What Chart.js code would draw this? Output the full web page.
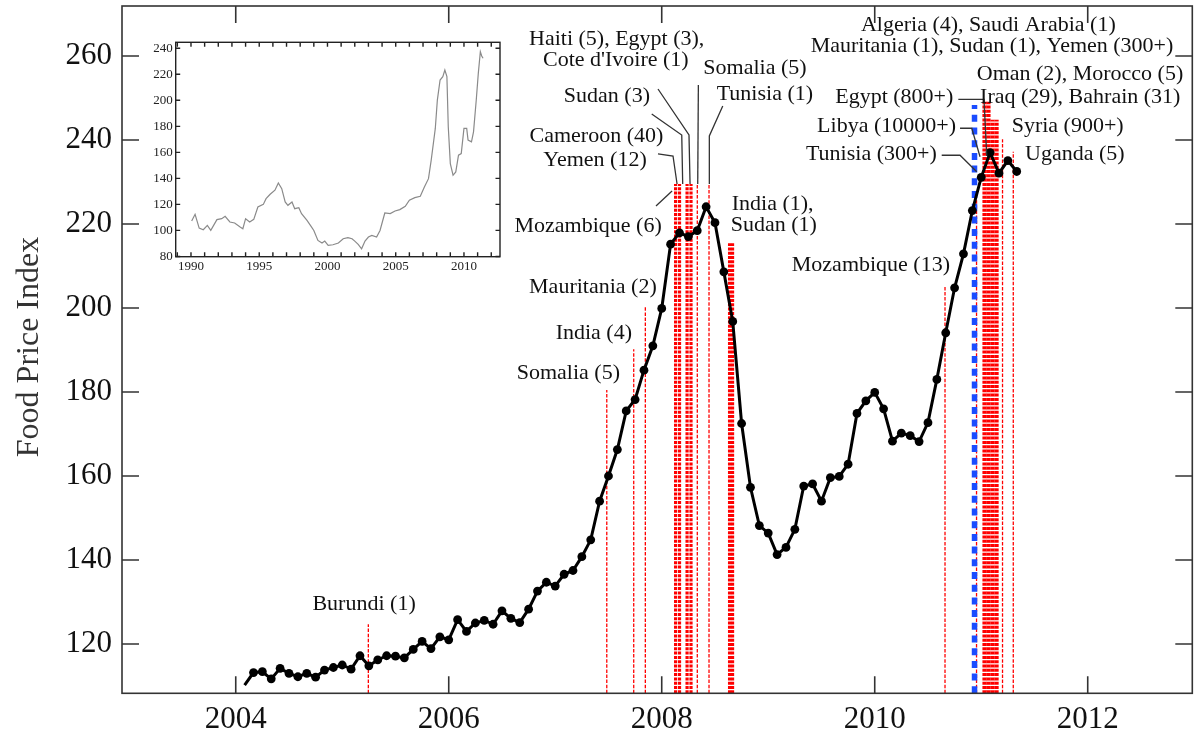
<!DOCTYPE html>
<html><head><meta charset="utf-8">
<script src="https://cdn.jsdelivr.net/npm/chart.js@4.4.0/dist/chart.umd.min.js"></script>
<style>
html,body{margin:0;padding:0;background:#fff;overflow:hidden}
#wrap{position:relative;width:1197px;height:733px}
#main{position:absolute;left:0;top:0}
#inset{position:absolute;left:140px;top:30px}
</style></head><body>
<div id="wrap"><canvas id="main" width="1197" height="733"></canvas><canvas id="inset" width="370" height="250"></canvas></div>
<script>
const FONT = '"Liberation Serif","Times New Roman",serif';

// ---- main series: FAO Food Price Index, monthly from Jan 2004 ----
const firstYear = 2004;
const foodIndex = [
  110.2,113.2,113.4,111.7,114.2,113.0,112.2,113.0,112.1,113.8,114.4,115.0,
  114.0,117.2,114.8,116.2,117.2,117.1,116.7,118.7,120.6,118.9,121.7,121.0,
  125.8,123.0,125.0,125.6,124.7,127.9,126.1,125.1,128.3,132.6,134.7,133.8,
  136.6,137.5,140.8,144.8,154.0,160.0,166.3,175.5,178.2,185.2,191.0,199.9,
  215.2,217.9,217.0,218.4,224.1,220.3,208.6,196.8,172.5,157.3,148.2,146.4,
  141.3,143.0,147.3,157.6,158.1,154.0,159.6,159.9,162.8,174.9,177.9,179.9,
  176.0,168.3,170.2,169.6,168.2,172.7,183.0,194.1,204.8,212.9,223.2,231.1,
  237.0,232.1,235.1,232.5
];
const xTicks = [2004, 2006, 2008, 2010, 2012];
const yTicks = [120, 140, 160, 180, 200, 220, 240, 260];

// ---- riot / unrest events (decimal year, height of marker line, lines in bundle) ----
const riotDates   = [2005.245, 2007.484, 2007.737, 2007.846, 2008.130, 2008.167, 2008.238, 2008.275,
                     2008.334, 2008.444, 2008.637, 2008.665, 2010.660, 2010.956, 2011.031, 2011.068,
                     2011.106, 2011.144, 2011.200, 2011.301];
const riotTops    = [124.7, 180.5, 190.2, 200.2, 229.5, 229.5, 229.5, 229.5,
                     229.5, 229.5, 215.4, 215.4, 205.2, 226.0, 249.1, 249.1,
                     244.8, 244.8, 240.2, 237.2];
const riotBundle  = [1, 1, 1, 1, 2, 2, 2, 2, 1, 1, 2, 2, 1, 1, 3, 3, 3, 3, 1, 1];
// Tunisia (300+) highlighted event
const tunisiaDate = 2010.937;
const tunisiaTop  = 248.3;

// ---- inset: long-run index 1990-2011 ----
const insetYears  = [1990.05,1990.3,1990.6,1990.9,1991.2,1991.45,1991.9,1992.25,1992.5,1992.85,1993.2,1993.6,1993.8,
  1994.0,1994.3,1994.6,1994.9,1995.3,1995.5,1995.8,1996.15,1996.4,1996.65,1996.9,1997.1,1997.4,1997.6,1997.9,
  1998.1,1998.5,1998.8,1999.0,1999.3,1999.6,1999.8,2000.05,2000.4,2000.8,2001.15,2001.5,2001.8,2002.0,2002.25,
  2002.5,2002.75,2003.0,2003.25,2003.6,2003.85,2004.2,2004.6,2004.95,2005.3,2005.7,2006.0,2006.4,2006.8,2007.1,
  2007.4,2007.6,2007.9,2008.05,2008.25,2008.45,2008.6,2008.75,2008.85,2009.0,2009.2,2009.4,2009.6,2009.8,2010.0,
  2010.2,2010.3,2010.55,2010.7,2010.9,2011.05,2011.2,2011.3,2011.4];
const insetValues = [107.2,112.4,101.8,100.5,103.9,100.0,108.3,109.0,110.8,106.5,105.7,102.6,101.3,
  109.0,106.5,108.5,118.0,120.0,124.4,127.8,130.9,136.5,132.1,121.9,119.3,121.9,116.7,117.5,
  112.9,107.7,103.1,100.0,92.3,90.3,91.8,88.5,89.0,90.3,93.6,94.4,93.6,91.8,89.3,
  85.9,91.8,94.9,96.2,94.9,100.0,113.4,112.9,114.9,116.0,118.5,123.2,125.2,126.2,133.4,
  139.8,154.0,178.4,200.2,215.6,218.2,223.3,218.2,179.7,151.4,142.4,145.0,157.8,159.1,178.4,
  178.4,169.4,168.1,175.8,200.2,220.7,237.4,234.1,232.3];
const insetXLabels = [1990, 1995, 2000, 2005, 2010];
const insetYTicks  = [80, 100, 120, 140, 160, 180, 200, 220, 240];

// ---- annotations (text in data coordinates) ----
const notes = [
  {t:'Burundi (1)', x:2005.205, y:129.52, a:'center'},
  {t:'Somalia (5)', x:2007.608, y:184.52, a:'right'},
  {t:'India (4)', x:2007.721, y:194.05, a:'right'},
  {t:'Mauritania (2)', x:2007.953, y:205.0, a:'right'},
  {t:'Mozambique (6)', x:2008.0, y:219.38, a:'right'},
  {t:'Yemen (12)', x:2007.859, y:235.24, a:'right'},
  {t:'Cameroon (40)', x:2008.015, y:240.79, a:'right'},
  {t:'Sudan (3)', x:2007.890, y:250.31, a:'right'},
  {t:'Haiti (5), Egypt (3),', x:2007.577, y:263.98, a:'center'},
  {t:"Cote d'Ivoire (1)", x:2007.569, y:259.05, a:'center'},
  {t:'Somalia (5)', x:2008.391, y:257.07, a:'left'},
  {t:'Tunisia (1)', x:2008.516, y:250.95, a:'left'},
  {t:'India (1),', x:2008.657, y:224.76, a:'left'},
  {t:'Sudan (1)', x:2008.648, y:219.76, a:'left'},
  {t:'Mozambique (13)', x:2010.707, y:210.24, a:'right'},
  {t:'Algeria (4), Saudi Arabia (1)', x:2011.067, y:267.38, a:'center'},
  {t:'Mauritania (1), Sudan (1), Yemen (300+)', x:2012.804, y:262.21, a:'right'},
  {t:'Oman (2), Morocco (5)', x:2010.958, y:255.71, a:'left'},
  {t:'Iraq (29), Bahrain (31)', x:2010.989, y:250.17, a:'left'},
  {t:'Egypt (800+)', x:2010.738, y:250.17, a:'right'},
  {t:'Libya (10000+)', x:2010.763, y:243.17, a:'right'},
  {t:'Syria (900+)', x:2011.286, y:243.33, a:'left'},
  {t:'Tunisia (300+)', x:2010.582, y:236.67, a:'right'},
  {t:'Uganda (5)', x:2011.411, y:236.67, a:'left'}
];
const leaders = [
  [[2007.965,252.14],[2008.256,241.19],[2008.266,229.52]],
  [[2007.906,246.19],[2008.188,241.19],[2008.197,229.52]],
  [[2007.965,236.67],[2008.106,236.19],[2008.144,229.52]],
  [[2007.946,224.29],[2008.097,227.86]],
  [[2008.344,253.10],[2008.338,229.52]],
  [[2008.573,248.10],[2008.447,240.95],[2008.447,229.52]],
  [[2010.785,249.69],[2011.026,249.69],[2011.052,236.19]],
  [[2010.801,242.79],[2010.911,242.79],[2010.989,236.02]],
  [[2010.629,236.36],[2010.801,236.36],[2010.958,232.45]]
];

const X_MIN = 2002.932, X_MAX = 2012.982, Y_MIN = 108.26, Y_MAX = 271.9;

const mainPoints = foodIndex.map((v, i) => ({x: firstYear + (i + 1) / 12, y: v}));

const datasets = [];
datasets.push({
  type: 'line', data: mainPoints, borderColor: '#000', borderWidth: 3,
  pointRadius: mainPoints.map((p, i) => i === 0 ? 0 : 4.4),
  pointBackgroundColor: '#000', pointBorderWidth: 0, tension: 0, order: 0
});
riotDates.forEach((d, i) => {
  const thick = riotBundle[i] > 1;
  datasets.push({
    type: 'line', data: [{x: d, y: Y_MIN}, {x: d, y: riotTops[i]}],
    borderColor: '#ff0000', borderWidth: thick ? (riotBundle[i] > 2 ? 4.2 : 3.2) : 1.3,
    borderDash: thick ? [3, 1.3] : [3.5, 1.6], pointRadius: 0, order: 2
  });
});
datasets.push({
  type: 'line', data: [{x: tunisiaDate, y: Y_MIN}, {x: tunisiaDate, y: tunisiaTop}],
  borderColor: '#1a4cff', borderWidth: 5.5, borderDash: [7, 5.7], pointRadius: 0, order: 1
});

function drawFrame(chart, xt, yt, len, lw, color) {
  const {ctx, chartArea: a, scales} = chart;
  ctx.save();
  ctx.strokeStyle = color; ctx.lineWidth = lw;
  ctx.strokeRect(a.left, a.top, a.right - a.left, a.bottom - a.top);
  ctx.beginPath();
  xt.forEach(v => {
    const px = scales.x.getPixelForValue(v);
    ctx.moveTo(px, a.bottom); ctx.lineTo(px, a.bottom - len);
    ctx.moveTo(px, a.top); ctx.lineTo(px, a.top + len);
  });
  yt.forEach(v => {
    const py = scales.y.getPixelForValue(v);
    ctx.moveTo(a.left, py); ctx.lineTo(a.left + len, py);
    ctx.moveTo(a.right, py); ctx.lineTo(a.right - len, py);
  });
  ctx.stroke();
  ctx.restore();
}

const mainPlugin = {
  id: 'mainDecor',
  afterDatasetsDraw(chart) {
    const {ctx, scales} = chart;
    drawFrame(chart, xTicks, yTicks, 17, 1.6, '#333');
    ctx.save();
    ctx.strokeStyle = '#333'; ctx.lineWidth = 1.3;
    leaders.forEach(l => {
      ctx.beginPath();
      l.forEach((p, i) => {
        const px = scales.x.getPixelForValue(p[0]), py = scales.y.getPixelForValue(p[1]);
        if (i === 0) ctx.moveTo(px, py); else ctx.lineTo(px, py);
      });
      ctx.stroke();
    });
    ctx.fillStyle = '#111';
    ctx.font = '22px ' + FONT;
    ctx.textBaseline = 'middle';
    notes.forEach(n => {
      ctx.textAlign = n.a;
      ctx.fillText(n.t, scales.x.getPixelForValue(n.x), scales.y.getPixelForValue(n.y));
    });
    ctx.translate(30, 347);
    ctx.rotate(-Math.PI / 2);
    ctx.textAlign = 'center';
    ctx.fillStyle = '#333';
    ctx.font = '32px ' + FONT;
    ctx.fillText('Food Price Index', 0, 0);
    ctx.restore();
  }
};

function noPadX(s, h) { s.height = h; s.paddingLeft = 0; s.paddingRight = 0; }
function noPadY(s, w) { s.width = w; s.paddingTop = 0; s.paddingBottom = 0; }

new Chart(document.getElementById('main'), {
  type: 'line',
  data: {datasets},
  options: {
    responsive: false, animation: false,
    layout: {padding: {top: 6, right: 4.7, left: 0, bottom: 0}},
    plugins: {legend: {display: false}, tooltip: {enabled: false}},
    scales: {
      x: {
        type: 'linear', min: X_MIN, max: X_MAX,
        afterBuildTicks: s => { s.ticks = xTicks.map(v => ({value: v})); },
        afterFit: s => noPadX(s, 39.7),
        grid: {display: false, drawTicks: false}, border: {display: false},
        ticks: {font: {family: FONT, size: 31}, color: '#111', padding: 8, maxRotation: 0, autoSkip: false,
                callback: v => String(v)}
      },
      y: {
        type: 'linear', min: Y_MIN, max: Y_MAX,
        afterBuildTicks: s => { s.ticks = yTicks.map(v => ({value: v})); },
        afterFit: s => noPadY(s, 122),
        grid: {display: false, drawTicks: false}, border: {display: false},
        ticks: {font: {family: FONT, size: 31}, color: '#111', padding: 10, autoSkip: false,
                callback: v => String(v)}
      }
    }
  },
  plugins: [mainPlugin]
});

// ---- inset chart ----
const insetYearTicks = [];
for (let y = 1989; y <= 2012; y++) insetYearTicks.push(y);
const insetPlugin = {
  id: 'insetDecor',
  afterDatasetsDraw(chart) { drawFrame(chart, insetYearTicks, insetYTicks, 4.5, 1.4, '#222'); }
};
new Chart(document.getElementById('inset'), {
  type: 'line',
  data: {datasets: [{
    data: insetYears.map((y, i) => ({x: y, y: insetValues[i]})),
    borderColor: '#8a8a8a', borderWidth: 1.2, pointRadius: 0, tension: 0
  }]},
  options: {
    responsive: false, animation: false,
    layout: {padding: {top: 12.3, right: 10, left: 0, bottom: 0}},
    plugins: {legend: {display: false}, tooltip: {enabled: false}},
    scales: {
      x: {
        type: 'linear', min: 1988.88, max: 2012.64,
        afterBuildTicks: s => { s.ticks = insetXLabels.map(v => ({value: v})); },
        afterFit: s => noPadX(s, 23.3),
        grid: {display: false, drawTicks: false}, border: {display: false},
        ticks: {font: {family: FONT, size: 13}, color: '#222', padding: 2, maxRotation: 0, autoSkip: false,
                callback: v => String(v)}
      },
      y: {
        type: 'linear', min: 79.8, max: 244.6,
        afterBuildTicks: s => { s.ticks = insetYTicks.map(v => ({value: v})); },
        afterFit: s => noPadY(s, 35.7),
        grid: {display: false, drawTicks: false}, border: {display: false},
        ticks: {font: {family: FONT, size: 13}, color: '#222', padding: 3, autoSkip: false,
                callback: v => String(v)}
      }
    }
  },
  plugins: [insetPlugin]
});
</script>
</body></html>
